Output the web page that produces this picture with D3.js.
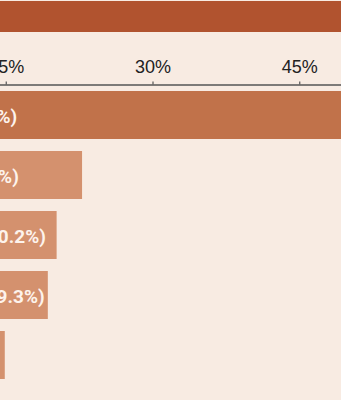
<!DOCTYPE html>
<html>
<head>
<meta charset="utf-8">
<script src="https://cdn.jsdelivr.net/npm/d3@7"></script>
<style>
  html, body { margin: 0; padding: 0; background: #f8ebe2; }
  svg { display: block; }
</style>
</head>
<body>
<svg id="chart" width="341" height="400"></svg>
<script>
// Share of respondents by category (%)
const categories = ["Shopping", "Groceries", "Medical care", "Home goods", "Travel"];
const values = [53.6, 22.8, 20.2, 19.3, 14.9];
const tickValues = [0, 15, 30, 45, 60];

const width = 341, height = 400;
const plotLeft = -141;          // left edge of the value axis
const plotWidth = 587;          // pixels spanned by 0–60%
const axisY = 84.5;

const svg = d3.select("#chart");

// header band
svg.append("rect")
  .attr("x", 0).attr("y", 1)
  .attr("width", width).attr("height", 31)
  .attr("fill", "#b1532f");

const g = svg.append("g").attr("transform", `translate(${plotLeft},0)`);

const x = d3.scaleLinear().domain([0, 60]).range([0, plotWidth]);
const y = d3.scaleBand().domain(categories).range([85, 385]).paddingInner(0.2).paddingOuter(0.1);

// value axis along the top
const axis = g.append("g")
  .attr("transform", `translate(0,${axisY})`)
  .call(d3.axisTop(x).tickValues(tickValues).tickSize(3).tickSizeOuter(0).tickPadding(9)
    .tickFormat(d => d + "%"));
axis.select(".domain").attr("stroke", "#555").attr("stroke-width", 1.5);
axis.selectAll(".tick line").attr("stroke", "#555").attr("stroke-width", 1.2);
axis.selectAll(".tick text")
  .attr("fill", "#222")
  .style("font-family", "'Liberation Sans', Arial, sans-serif")
  .style("font-size", "18px");

const data = categories.map((c, i) => ({ name: c, value: values[i] }));
const fills = ["#c1724a", "#d4916e", "#d4916e", "#d4916e", "#d4916e"];

g.selectAll("rect.bar").data(data).join("rect")
  .attr("class", "bar")
  .attr("x", x(0))
  .attr("y", d => y(d.name))
  .attr("width", d => x(d.value) - x(0))
  .attr("height", y.bandwidth())
  .attr("fill", (d, i) => fills[i]);

g.selectAll("text.lbl").data(data).join("text")
  .attr("class", "lbl")
  .attr("x", x(0) + 7)
  .attr("y", d => y(d.name) + y.bandwidth() / 2)
  .attr("dy", "0.4em")
  .attr("fill", "#fdf3ec")
  .style("font-family", "Roboto, 'Liberation Sans', sans-serif")
  .style("font-size", "19px")
  .style("font-weight", "bold")
  .text(d => `${d.name} (${d.value.toFixed(1)}%)`);
</script>
</body>
</html>
